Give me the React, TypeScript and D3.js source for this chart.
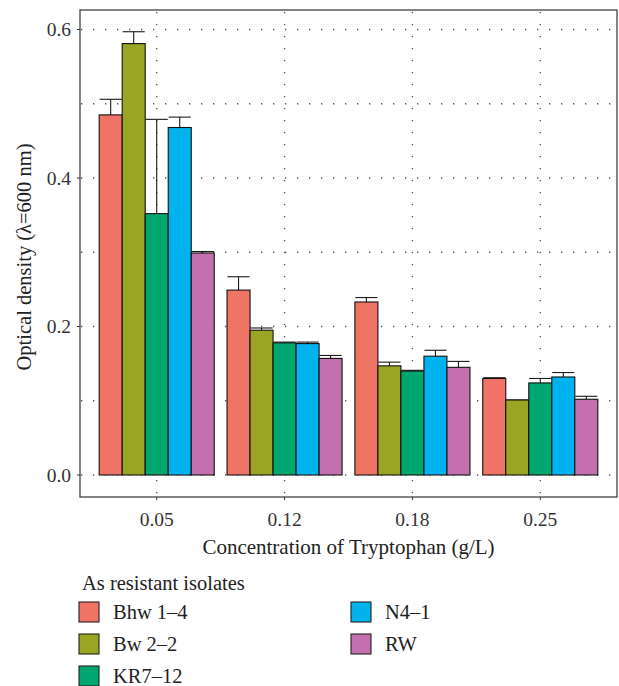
import React, { useRef, useEffect } from 'react';
import * as d3 from 'd3';

const concentrations = ["0.05", "0.12", "0.18", "0.25"];
const isolates = ["Bhw 1–4", "Bw 2–2", "KR7–12", "N4–1", "RW"];
const isolateColors = ["#F07466", "#9BA524", "#00A66F", "#00B3EE", "#C371AE"];

// mean optical density, one array per isolate (order of concentrations)
const meanBhw = [0.485, 0.249, 0.233, 0.130];
const meanBw = [0.581, 0.195, 0.147, 0.101];
const meanKR = [0.352, 0.178, 0.140, 0.124];
const meanN4 = [0.468, 0.177, 0.160, 0.132];
const meanRW = [0.299, 0.157, 0.145, 0.102];

// upper end of the error bar
const upperBhw = [0.506, 0.267, 0.239, 0.131];
const upperBw = [0.597, 0.198, 0.152, 0.101];
const upperKR = [0.479, 0.179, 0.141, 0.130];
const upperN4 = [0.482, 0.179, 0.168, 0.138];
const upperRW = [0.301, 0.161, 0.153, 0.106];

const yTicks = [0, 0.2, 0.4, 0.6];
const yMinor = [0.1, 0.3, 0.5];

const means = [meanBhw, meanBw, meanKR, meanN4, meanRW];
const uppers = [upperBhw, upperBw, upperKR, upperN4, upperRW];

const FONT = '"Liberation Serif", "DejaVu Serif", serif';

const App = () => {
  const ref = useRef<SVGSVGElement>(null);

  useEffect(() => {
    document.body.style.margin = '0';
    const width = 619;
    const height = 686;
    const panel = { left: 80, right: 617, top: 10, bottom: 497 };

    const svg = d3.select(ref.current)
      .attr('width', width)
      .attr('height', height);
    svg.selectAll('*').remove();

    const rows = [];
    concentrations.forEach((c, ci) => {
      isolates.forEach((s, si) => {
        rows.push({ conc: c, iso: s, mean: means[si][ci], upper: uppers[si][ci] });
      });
    });

    // ggplot-like discrete expansion: 0.6 units on each side
    const step = (panel.right - panel.left) / 4.2;
    const x = d3.scaleBand()
      .domain(concentrations)
      .range([panel.left + step * 0.1, panel.right - step * 0.1])
      .paddingInner(0.1)
      .paddingOuter(0.05);

    const xInner = d3.scaleBand()
      .domain(isolates)
      .range([0, x.bandwidth()]);

    const yScale = d3.scaleLinear()
      .domain([0, 0.6])
      .range([475, 29.5]);

    const color = d3.scaleOrdinal<string, string>()
      .domain(isolates)
      .range(isolateColors);

    // grid
    const grid = svg.append('g')
      .attr('stroke', '#555')
      .attr('stroke-width', 1.3)
      .attr('stroke-dasharray', '1.3,10.7');
    grid.selectAll('line.h')
      .data([...yTicks, ...yMinor])
      .enter().append('line')
      .attr('x1', panel.left + 1)
      .attr('x2', panel.right)
      .attr('y1', d => yScale(d))
      .attr('y2', d => yScale(d));
    grid.selectAll('line.v')
      .data(concentrations)
      .enter().append('line')
      .attr('x1', d => x(d) + x.bandwidth() / 2)
      .attr('x2', d => x(d) + x.bandwidth() / 2)
      .attr('y1', panel.top + 2)
      .attr('y2', panel.bottom);

    // error bars (behind bars, only upper part visible)
    const err = svg.append('g').attr('stroke', '#1a1a1a').attr('stroke-width', 1.1);
    const cap = xInner.bandwidth() * 0.96;
    rows.forEach(d => {
      const cx = x(d.conc) + xInner(d.iso) + xInner.bandwidth() / 2;
      err.append('line')
        .attr('x1', cx).attr('x2', cx)
        .attr('y1', yScale(d.mean)).attr('y2', yScale(d.upper));
      err.append('line')
        .attr('x1', cx - cap / 2).attr('x2', cx + cap / 2)
        .attr('y1', yScale(d.upper)).attr('y2', yScale(d.upper));
    });

    // bars
    svg.append('g')
      .selectAll('rect')
      .data(rows)
      .enter().append('rect')
      .attr('x', d => x(d.conc) + xInner(d.iso))
      .attr('y', d => yScale(d.mean))
      .attr('width', xInner.bandwidth())
      .attr('height', d => yScale(0) - yScale(d.mean))
      .attr('fill', d => color(d.iso))
      .attr('stroke', '#111')
      .attr('stroke-width', 1.1);

    // panel border
    svg.append('rect')
      .attr('x', panel.left)
      .attr('y', panel.top)
      .attr('width', panel.right - panel.left)
      .attr('height', panel.bottom - panel.top)
      .attr('fill', 'none')
      .attr('stroke', '#333')
      .attr('stroke-width', 1.2);

    // y axis ticks
    const yAxis = svg.append('g');
    yTicks.forEach(t => {
      yAxis.append('line')
        .attr('x1', panel.left - 3).attr('x2', panel.left)
        .attr('y1', yScale(t)).attr('y2', yScale(t))
        .attr('stroke', '#333');
      yAxis.append('text')
        .attr('x', panel.left - 9)
        .attr('y', yScale(t))
        .attr('dy', '0.35em')
        .attr('text-anchor', 'end')
        .attr('font-family', FONT)
        .attr('font-size', 19.5)
        .attr('fill', '#333')
        .text(d3.format('.1f')(t));
    });

    // x axis ticks
    const xAxis = svg.append('g');
    concentrations.forEach(c => {
      const cx = x(c) + x.bandwidth() / 2;
      xAxis.append('line')
        .attr('x1', cx).attr('x2', cx)
        .attr('y1', panel.bottom).attr('y2', panel.bottom + 3)
        .attr('stroke', '#333');
      xAxis.append('text')
        .attr('x', cx)
        .attr('y', 526)
        .attr('text-anchor', 'middle')
        .attr('font-family', FONT)
        .attr('font-size', 19.5)
        .attr('fill', '#333')
        .text(c);
    });

    // axis titles
    svg.append('text')
      .attr('x', (panel.left + panel.right) / 2)
      .attr('y', 554)
      .attr('text-anchor', 'middle')
      .attr('font-family', FONT)
      .attr('font-size', 21)
      .attr('fill', '#222')
      .text('Concentration of Tryptophan (g/L)');

    svg.append('text')
      .attr('transform', `translate(31,257) rotate(-90)`)
      .attr('text-anchor', 'middle')
      .attr('font-family', FONT)
      .attr('font-size', 20.5)
      .attr('fill', '#222')
      .text('Optical density (λ=600 nm)');

    // legend
    const legend = svg.append('g');
    legend.append('text')
      .attr('x', 82)
      .attr('y', 590)
      .attr('font-family', FONT)
      .attr('font-size', 20.5)
      .attr('fill', '#222')
      .text('As resistant isolates');
    isolates.forEach((s, i) => {
      const col = Math.floor(i / 3);
      const row = i % 3;
      const lx = 79 + col * 272;
      const ly = 602 + row * 32;
      legend.append('rect')
        .attr('x', lx).attr('y', ly)
        .attr('width', 20).attr('height', 20)
        .attr('fill', color(s))
        .attr('stroke', '#222')
        .attr('stroke-width', 1.1);
      legend.append('text')
        .attr('x', lx + 34)
        .attr('y', ly + 10)
        .attr('dy', '0.35em')
        .attr('font-family', FONT)
        .attr('font-size', 20.5)
        .attr('fill', '#222')
        .text(s);
    });
  }, []);

  return <svg ref={ref}></svg>;
};

export default App;
